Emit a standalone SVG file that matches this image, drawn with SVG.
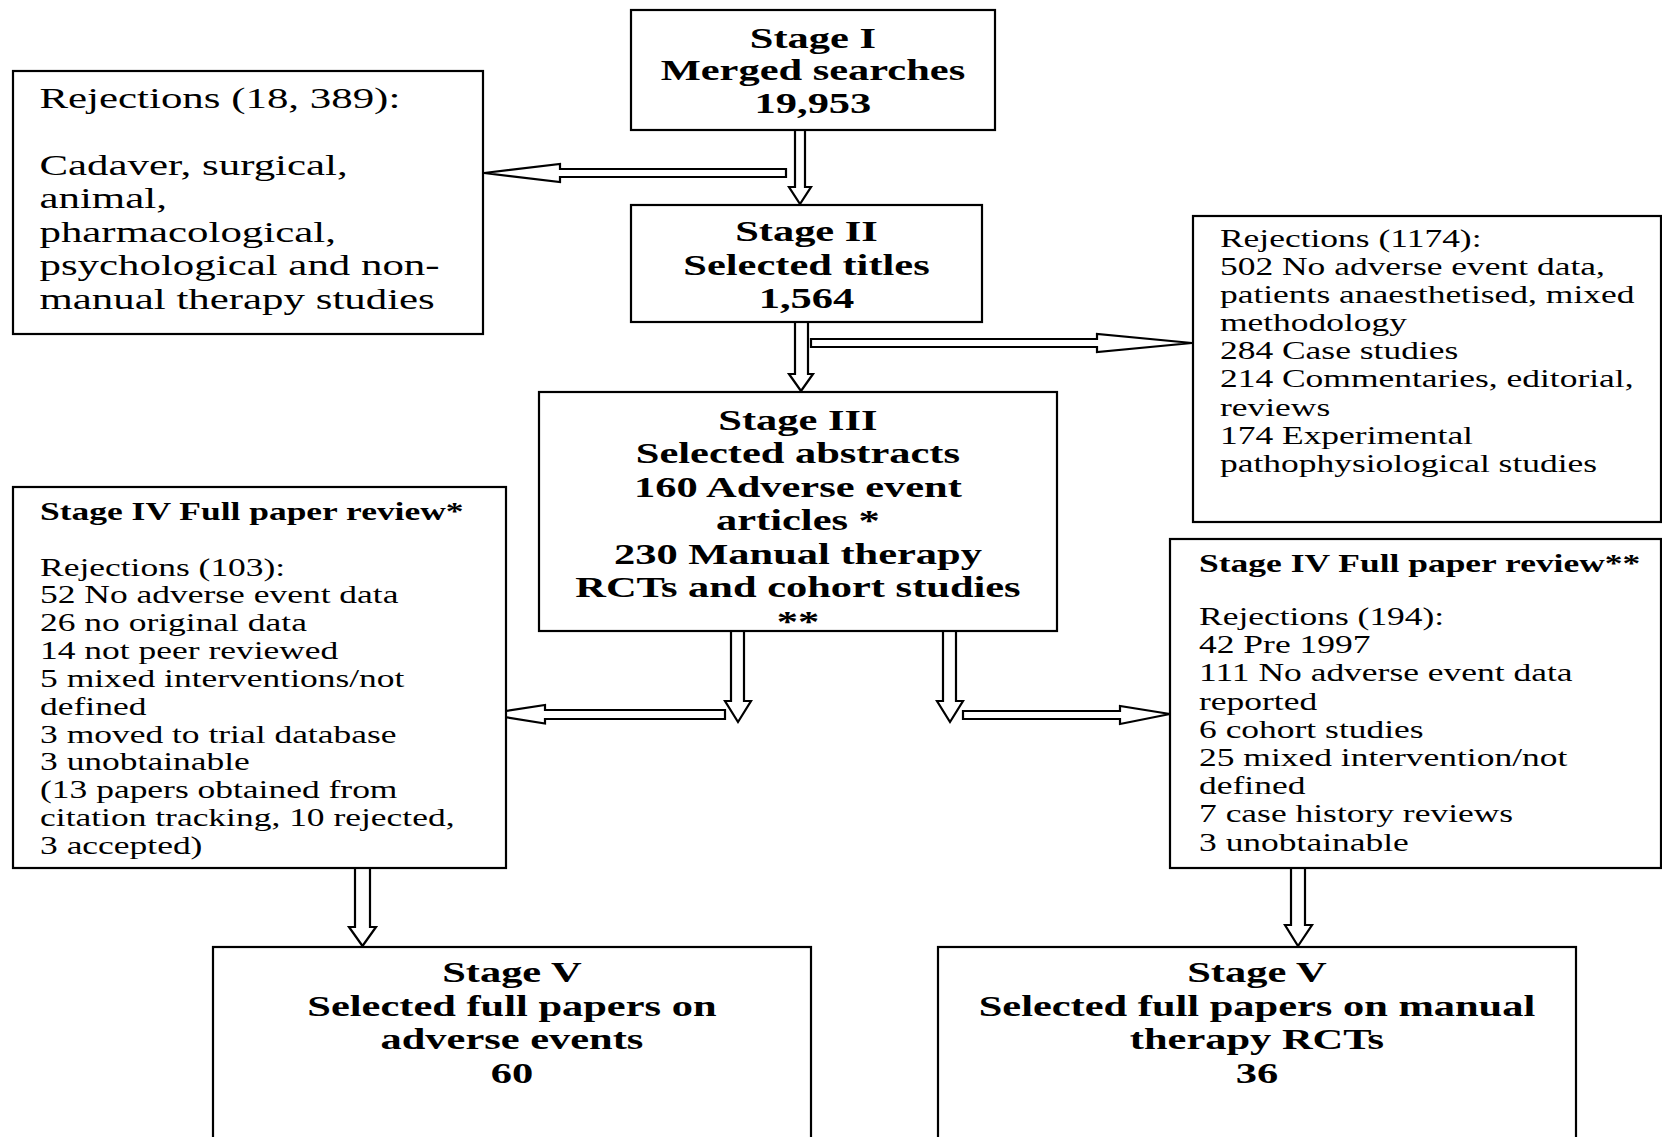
<svg xmlns="http://www.w3.org/2000/svg" width="1662" height="1137" viewBox="0 0 1662 1137">
<style>
.box{fill:#fff;stroke:#000;stroke-width:2.2}
.arr{fill:#fff;stroke:#000;stroke-width:2.2;stroke-linejoin:miter}
.t{font-family:"Liberation Serif","Times New Roman",serif;fill:#000}
.b{font-weight:bold;font-size:29.7px;text-anchor:middle}
.r{font-size:30px}
.s{font-size:24.8px}
.sb{font-size:24.8px;font-weight:bold}
</style>
<rect width="1662" height="1137" fill="#fff"/>
<g id="connectors">
<polygon class="arr" points="786,169 786,177 560,177 560,182 484,173 560,164 560,169"/>
<polygon class="arr" points="795,129 805,129 805,187 811,187 800,204 789,187 795,187"/>
<polygon class="arr" points="811,339 1097,339 1097,334 1192,343 1097,352 1097,347 811,347"/>
<polygon class="arr" points="795,322 808,322 808,374 813,374 801,391 789,374 795,374"/>
<polygon class="arr" points="725,710 725,719 545,719 545,723.5 486,714 545,705 545,710"/>
<polygon class="arr" points="731,631 744,631 744,701 751,701 738,722 725,701 731,701"/>
<polygon class="arr" points="963,711 1120,711 1120,706 1170,714 1120,724 1120,719 963,719"/>
<polygon class="arr" points="943,631 956,631 956,701 963,701 950,722 937,701 943,701"/>
<polygon class="arr" points="355,868 370,868 370,927 376,927 362.5,946 349,927 355,927"/>
<polygon class="arr" points="1291,868 1305,868 1305,925 1312,925 1298,946 1285,925 1291,925"/>
</g>
<g id="stage1">
<rect class="box" x="631" y="10" width="364" height="120"/>
<g transform="scale(1.43 1)"><text class="t b"><tspan x="568.5" y="48">Stage I</tspan><tspan x="568.5" y="80.5">Merged searches</tspan><tspan x="568.5" y="113">19,953</tspan></text></g>
</g>
<g id="rejections1">
<rect class="box" x="13" y="71" width="470" height="263"/>
<g transform="scale(1.43 1)"><text class="t r"><tspan x="27.6" y="108.3">Rejections (18, 389):</tspan><tspan x="27.6" y="175">Cadaver, surgical,</tspan><tspan x="27.6" y="208.5">animal,</tspan><tspan x="27.6" y="242">pharmacological,</tspan><tspan x="27.6" y="275.5">psychological and non-</tspan><tspan x="27.6" y="309">manual therapy studies</tspan></text></g>
</g>
<g id="stage2">
<rect class="box" x="631" y="205" width="351" height="117"/>
<g transform="scale(1.43 1)"><text class="t b"><tspan x="564" y="241.5">Stage II</tspan><tspan x="564" y="275">Selected titles</tspan><tspan x="564" y="308">1,564</tspan></text></g>
</g>
<g id="rejections2">
<rect class="box" x="1193" y="216" width="468" height="306"/>
<g transform="scale(1.43 1)"><text class="t s"><tspan x="853.1" y="247">Rejections (1174):</tspan><tspan x="853.1" y="275.1">502 No adverse event data,</tspan><tspan x="853.1" y="303.2">patients anaesthetised, mixed</tspan><tspan x="853.1" y="331.3">methodology</tspan><tspan x="853.1" y="359.4">284 Case studies</tspan><tspan x="853.1" y="387.5">214 Commentaries, editorial,</tspan><tspan x="853.1" y="415.6">reviews</tspan><tspan x="853.1" y="443.7">174 Experimental</tspan><tspan x="853.1" y="471.8">pathophysiological studies</tspan></text></g>
</g>
<g id="stage3">
<rect class="box" x="539" y="392" width="518" height="239"/>
<g transform="scale(1.43 1)"><text class="t b"><tspan x="558" y="430">Stage III</tspan><tspan x="558" y="463.5">Selected abstracts</tspan><tspan x="558" y="497">160 Adverse event</tspan><tspan x="558" y="530.5">articles *</tspan><tspan x="558" y="564">230 Manual therapy</tspan><tspan x="558" y="597.5">RCTs and cohort studies</tspan><tspan x="558" y="631">**</tspan></text></g>
</g>
<g id="stage4a">
<rect class="box" x="13" y="487" width="493" height="381"/>
<g transform="scale(1.43 1)"><text class="t s"><tspan class="sb" x="28" y="520">Stage IV Full paper review*</tspan><tspan x="28" y="575.6">Rejections (103):</tspan><tspan x="28" y="603.4">52 No adverse event data</tspan><tspan x="28" y="631.3">26 no original data</tspan><tspan x="28" y="659.1">14 not peer reviewed</tspan><tspan x="28" y="687">5 mixed interventions/not</tspan><tspan x="28" y="714.8">defined</tspan><tspan x="28" y="742.6">3 moved to trial database</tspan><tspan x="28" y="770.5">3 unobtainable</tspan><tspan x="28" y="798.3">(13 papers obtained from</tspan><tspan x="28" y="826.2">citation tracking, 10 rejected,</tspan><tspan x="28" y="854">3 accepted)</tspan></text></g>
</g>
<g id="stage4b">
<rect class="box" x="1170" y="539" width="491" height="329"/>
<g transform="scale(1.43 1)"><text class="t s"><tspan class="sb" x="838.5" y="571.7">Stage IV Full paper review**</tspan><tspan x="838.5" y="625">Rejections (194):</tspan><tspan x="838.5" y="653.2">42 Pre 1997</tspan><tspan x="838.5" y="681.4">111 No adverse event data</tspan><tspan x="838.5" y="709.6">reported</tspan><tspan x="838.5" y="737.8">6 cohort studies</tspan><tspan x="838.5" y="766">25 mixed intervention/not</tspan><tspan x="838.5" y="794.2">defined</tspan><tspan x="838.5" y="822.4">7 case history reviews</tspan><tspan x="838.5" y="850.6">3 unobtainable</tspan></text></g>
</g>
<g id="stage5a">
<rect class="box" x="213" y="947" width="598" height="200"/>
<g transform="scale(1.43 1)"><text class="t b"><tspan x="358" y="982">Stage V</tspan><tspan x="358" y="1016">Selected full papers on</tspan><tspan x="358" y="1049.5">adverse events</tspan><tspan x="358" y="1083">60</tspan></text></g>
</g>
<g id="stage5b">
<rect class="box" x="938" y="947" width="638" height="200"/>
<g transform="scale(1.43 1)"><text class="t b"><tspan x="879" y="982">Stage V</tspan><tspan x="879" y="1016">Selected full papers on manual</tspan><tspan x="879" y="1049.5">therapy RCTs</tspan><tspan x="879" y="1083">36</tspan></text></g>
</g>
</svg>
